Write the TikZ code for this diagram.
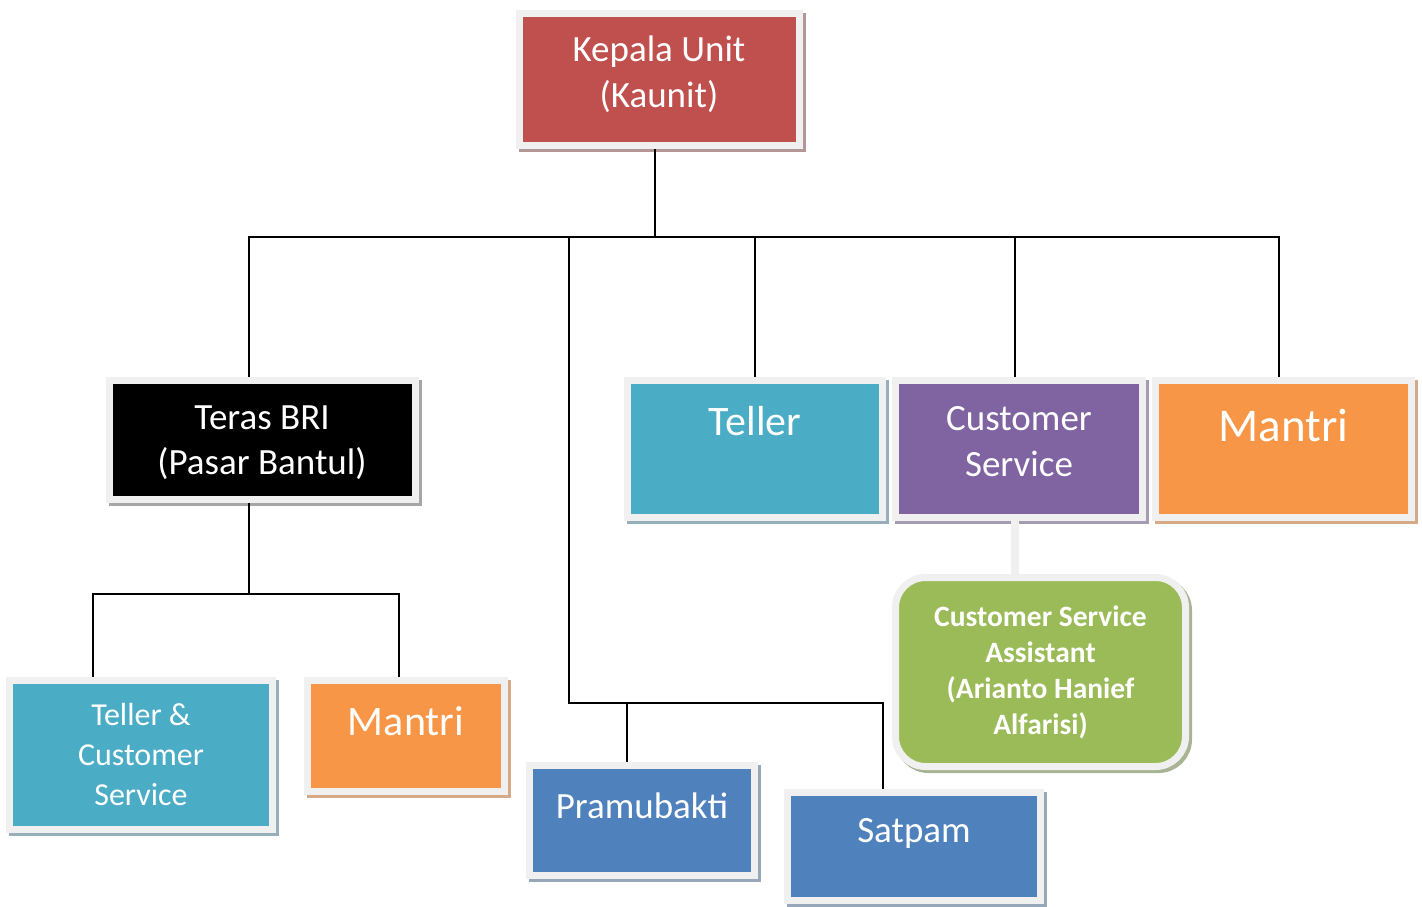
\documentclass[tikz,border=0pt]{standalone}
\usepackage{fontspec}
\setmainfont{Carlito}
\usetikzlibrary{shadows}

\definecolor{kaunitred}{HTML}{C0504D}
\definecolor{tealunit}{HTML}{4BACC6}
\definecolor{purpleunit}{HTML}{8064A2}
\definecolor{orangeunit}{HTML}{F79646}
\definecolor{blueunit}{HTML}{4F81BD}
\definecolor{greenunit}{HTML}{9BBB59}
\definecolor{framegray}{HTML}{F0F0F0}
\definecolor{redshadow}{HTML}{B39696}
\definecolor{tealshadow}{HTML}{96AFBA}
\definecolor{purpleshadow}{HTML}{A59CB2}
\definecolor{orangeshadow}{HTML}{D6A987}
\definecolor{blueshadow}{HTML}{97A7BA}
\definecolor{greenshadow}{HTML}{A9B494}
\definecolor{blackshadow}{HTML}{A6A6A6}

% text box: [top gap], width, height, lines (top aligned)
\newcommand{\orgtext}[4][1.3em]{\parbox[c][#3][t]{#2}{\centering\rule{0pt}{#1}#4}}
\newcommand{\fsz}[2]{\fontsize{#1}{#2}\selectfont}

\begin{document}
\begin{tikzpicture}[x=1pt, y=-1pt,
          unit/.style 2 args={draw=framegray, fill=#1, line width=7pt,
                        inner sep=0pt, outer sep=3.5pt, text=white,
                        general shadow={fill=#2, draw=#2, line width=7pt,
                        shadow xshift=3pt, shadow yshift=-3pt}},
          link/.style={line width=1.8pt},
          softlink/.style={line width=8pt, framegray}]
        \useasboundingbox (0,0) rectangle (1422,906);
        \node[unit={kaunitred}{redshadow}, font=\fsz{37}{46}] (kaunit) at (659,79)
              {\orgtext{280pt}{132pt}{Kepala Unit\\(Kaunit)}};
        \node[unit={black}{blackshadow}, font=\fsz{37}{45}] (teras) at (262,440)
              {\orgtext[1.33em]{306pt}{119pt}{Teras BRI\\(Pasar Bantul)}};
        \node[unit={tealunit}{tealshadow}, font=\fsz{42}{50}] (teller) at (755,449)
              {\orgtext{255pt}{137pt}{Teller}};
        \node[unit={purpleunit}{purpleshadow}, font=\fsz{37}{46}] (cs) at (1019,449)
              {\orgtext[1.35em]{247pt}{137pt}{Customer\\Service}};
        \node[unit={orangeunit}{orangeshadow}, font=\fsz{47}{56}] (mantrir) at (1283.5,449)
              {\orgtext{256pt}{137pt}{Mantri}};
        \node[unit={greenunit}{greenshadow}, rounded corners=30pt, align=center,
              minimum width=290pt, minimum height=189pt,
              font=\bfseries\fsz{29.5}{36}] (csa) at (1040.5,672)
              {Customer Service\\Assistant\\(Arianto Hanief\\Alfarisi)};
        \node[unit={tealunit}{tealshadow}, font=\fsz{32}{40}] (tellercs) at (141,755)
              {\orgtext[1.4em]{263pt}{149pt}{Teller \&\\Customer\\Service}};
        \node[unit={orangeunit}{orangeshadow}, font=\fsz{42}{50}] (mantril) at (406,736)
              {\orgtext{197pt}{111pt}{Mantri}};
        \node[unit={blueunit}{blueshadow}, font=\fsz{37}{46}] (pramu) at (642,820.5)
              {\orgtext[1.43em]{225pt}{110pt}{Pramubakti}};
        \node[unit={blueunit}{blueshadow}, font=\fsz{37}{46}] (satpam) at (914,846.5)
              {\orgtext[1.35em]{253pt}{108pt}{Satpam}};
        % connectors
        \coordinate (top bus) at (655,237);
        \coordinate (teras bus) at (249,594);
        \coordinate (sub bus) at (569,703);
        \draw[link] ([xshift=-4pt]kaunit.south) -- (top bus);
        \draw[link] ([xshift=-13pt]teras.north) |- (top bus) -| ([xshift=-4.5pt]mantrir.north);
        \draw[link] (teller.north) -- (teller.north |- top bus);
        \draw[link] ([xshift=-4pt]cs.north) -- ([xshift=-4pt]cs.north |- top bus);
        \draw[link] (sub bus |- top bus) -- (sub bus) -| ([xshift=-15pt]pramu.north);
        \draw[link] (sub bus) -| ([xshift=-31pt]satpam.north);
        \draw[link] ([xshift=-13pt]teras.south) -- (teras bus);
        \draw[link] ([xshift=-48pt]tellercs.north) |- (teras bus) -| ([xshift=-7pt]mantril.north);
        \draw[softlink] ([xshift=-4pt]cs.south) -- ([xshift=-4pt]cs.south |- csa.north);
      \end{tikzpicture}
\end{document}
